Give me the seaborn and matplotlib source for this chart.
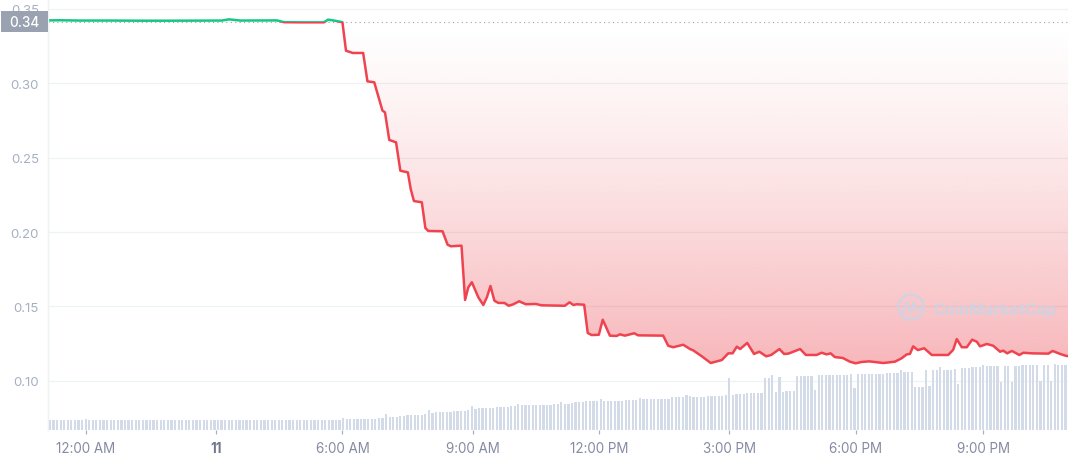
import numpy as np
import matplotlib
matplotlib.use("Agg")
import matplotlib.pyplot as plt
from matplotlib.patches import Polygon, Rectangle, Ellipse
import seaborn as sns

price_pos = [-0.5, 2.8, 8.4, 16.8, 25.2, 33.6, 42.0, 48.1, 50.1, 53.2, 60.2, 63.5, 65.5, 69.9, 76.6, 77.8, 79.4, 81.8,
             82.8, 84.7, 87.6, 88.8, 90.7, 93.0, 93.7, 94.9, 96.8, 98.0, 100.1, 100.9, 101.8, 104.0, 105.0, 105.8, 109.8,
             111.2, 112.1, 115.1, 116.1, 117.0, 118.0, 119.8, 121.2, 122.2, 123.2, 124.3, 125.4, 127.1, 128.3, 129.6,
             131.2, 133.1, 135.9, 137.5, 144.0, 145.3, 146.4, 147.3, 149.4, 150.4, 151.5, 153.5, 154.6, 156.6, 158.5,
             159.4, 160.8, 163.4, 164.5, 171.5, 172.9, 174.3, 177.1, 179.0, 179.9, 182.3, 184.8, 187.9, 189.7, 190.9,
             192.1, 193.0, 195.0, 196.9, 198.4, 200.3, 201.7, 204.0, 205.3, 206.5, 209.8, 211.4, 214.4, 215.8, 217.2,
             218.3, 219.5, 221.7, 223.7, 225.3, 227.0, 229.1, 233.1, 236.3, 238.2, 239.6, 240.5, 241.4, 242.7, 244.5,
             246.6, 251.2, 252.6, 253.6, 255.0, 256.4, 257.9, 259.2, 260.1, 262.0, 263.8, 265.7, 266.6, 267.7, 269.0,
             271.1, 272.2, 274.6, 279.2, 280.4, 282.5, 283.9, 284.7]
price_val = [.3423, .3424, .3422, .3422, .3421, .3421, .3422, .3422, .3430, .3422, .3423, .3423, .3411, .3410, .3410, .3428, .3422, .3411,
             .3219, .3204, .3204, .3013, .3007, .2816, .2805, .2619, .2603, .2412, .2401, .2289, .2208, .2200, .2027, .2007, .2005,
             .1915, .1904, .1908, .1543, .1628, .1662, .1561, .1509, .1561, .1637, .1538, .1523, .1523, .1504, .1514,
             .1534, .1514, .1516, .1507, .1504, .1527, .1509, .1514, .1511, .1321, .1307, .1309, .1410, .1303, .1301,
             .1312, .1303, .1319, .1305, .1303, .1235, .1225, .1242, .1213, .1204, .1164, .1119, .1139, .1184, .1184,
             .1229, .1213, .1254, .1180, .1195, .1164, .1173, .1213, .1180, .1182, .1213, .1173, .1173, .1188, .1177,
             .1184, .1159, .1153, .1128, .1117, .1126, .1130, .1119, .1128, .1151, .1177, .1180, .1231, .1206, .1218,
             .1173, .1173, .1208, .1280, .1225, .1225, .1276, .1262, .1231, .1247, .1235, .1195, .1202, .1184, .1200,
             .1173, .1188, .1184, .1182, .1200, .1180, .1169, .1165]

volume = [10.0, 10.0, 10.0, 10.0, 10.0, 10.0, 10.0, 10.0, 10.0, 10.0, 10.5, 10.0, 10.0, 10.0, 10.0, 10.0, 10.0, 10.0, 10.0, 10.0,
          10.0, 10.0, 10.0, 10.0, 10.0, 10.0, 10.0, 10.0, 10.0, 10.0, 10.0, 10.0, 10.0, 10.0, 10.0, 10.0, 10.0, 10.0, 10.0, 10.0,
          10.0, 10.0, 10.0, 10.0, 10.0, 10.0, 10.0, 10.0, 10.0, 10.0, 10.0, 10.0, 10.0, 10.0, 10.0, 10.0, 10.0, 10.0, 10.0, 10.0,
          10.0, 10.0, 10.0, 10.0, 10.0, 10.0, 10.0, 10.0, 10.0, 10.0, 10.0, 10.0, 10.0, 10.0, 10.0, 10.0, 10.0, 10.0, 10.0, 10.0,
          10.0, 10.0, 11.7, 10.3, 10.3, 10.5, 10.7, 10.7, 10.9, 11.0, 11.0, 11.1, 11.3, 11.5, 15.3, 13.0, 13.0, 13.2, 13.3, 13.8,
          14.3, 14.3, 14.3, 14.5, 14.5, 15.3, 20.0, 16.3, 17.3, 17.3, 17.3, 17.3, 17.3, 18.3, 18.3, 18.3, 18.3, 19.7, 23.3, 20.7,
          21.7, 21.7, 21.7, 21.7, 21.7, 22.3, 22.3, 22.3, 22.3, 23.7, 23.7, 26.0, 24.7, 24.7, 24.7, 24.7, 24.7, 24.7, 24.7, 24.7,
          24.7, 25.7, 25.7, 28.0, 25.7, 25.7, 26.5, 27.3, 27.3, 27.3, 28.3, 28.3, 28.3, 28.3, 30.7, 29.0, 29.0, 29.0, 29.0, 29.0,
          29.0, 30.0, 30.0, 30.0, 30.0, 31.7, 30.7, 30.7, 30.7, 30.7, 30.7, 30.7, 30.7, 30.7, 32.3, 32.3, 32.3, 32.3, 34.7, 33.3,
          33.0, 33.0, 33.0, 33.0, 33.5, 33.5, 33.5, 33.5, 33.7, 34.7, 52.0, 34.3, 35.7, 35.7, 35.7, 36.7, 36.7, 36.7, 36.7, 36.7,
          51.3, 52.0, 55.0, 37.3, 52.3, 37.3, 38.3, 38.3, 38.3, 54.0, 54.0, 54.0, 54.0, 54.0, 40.0, 55.0, 55.0, 55.0, 55.0, 55.0,
          55.0, 54.7, 54.7, 54.7, 55.7, 41.3, 56.0, 56.0, 56.0, 56.0, 55.7, 55.7, 55.7, 55.7, 56.7, 56.7, 56.7, 56.7, 59.7, 57.7,
          57.7, 57.7, 43.0, 43.0, 43.0, 59.7, 44.0, 59.7, 59.7, 62.3, 59.7, 59.7, 59.7, 60.7, 45.7, 61.3, 61.3, 61.3, 62.3, 62.3,
          62.3, 64.3, 63.3, 63.3, 63.3, 63.3, 47.3, 63.3, 63.3, 48.0, 63.3, 63.3, 64.3, 64.3, 64.3, 64.3, 64.3, 49.0, 64.3, 64.3,
          49.0, 65.3, 64.3, 64.3, 64.3]

baseline = 0.3414
y_ticks = [0.10, 0.15, 0.20, 0.25, 0.30, 0.35]
x_ticks = [10, 46.4, 81.8, 118.2, 153.6, 190, 225.4, 261]
x_labels = ["12:00 AM", "11", "6:00 AM", "9:00 AM", "12:00 PM", "3:00 PM", "6:00 PM", "9:00 PM"]

GREEN, RED = "#16C784", "#EF4350"
TICK_X, TICK_Y, GRID, BAR = "#858CA2", "#A6B0C3", "#EFF2F5", "#D3DAE8"

sns.set_theme(style="white")
plt.rcParams["font.family"] = ["Inter", "DejaVu Sans"]

W, H = 1068, 460
fig = plt.figure(figsize=(W / 100, H / 100), dpi=100, facecolor="white")
ax = fig.add_axes([48 / W, (H - 430.7) / H, 1020 / W, 430.7 / H])
ax2 = ax.twinx()
ax.set_zorder(1)
ax2.set_zorder(2)
ax2.patch.set_visible(False)

x = np.asarray(price_pos)
y = np.asarray(price_val)
xlim = (-0.53, 284.7)
ylim = (0.06705, 0.35669)

# volume bars
sns.barplot(x=np.arange(len(volume)), y=volume, native_scale=True, color=BAR, saturation=1,
            width=0.62, ax=ax2, linewidth=0)
ax2.set_ylim(0, 430.7)
ax2.set_xlabel("")
ax2.set_ylabel("")
ax2.set_yticks([])

# gradient area between the price and its reference level
ramp = np.linspace(0, 1, 256)[:, None]
rgba = np.ones((256, 1, 4))
rgba[..., :3] = matplotlib.colors.to_rgb("#EA3943")
rgba[..., 3] = 0.36 * ramp ** 1.25
img = ax.imshow(rgba, extent=[x[0], x[-1], y.min(), baseline], origin="upper", aspect="auto", zorder=1,
                interpolation="bilinear")
poly = Polygon(np.column_stack([np.r_[x[0], x, x[-1]], np.r_[baseline, np.minimum(y, baseline), baseline]]),
               closed=True, transform=ax.transData, facecolor="none", edgecolor="none")
ax.add_patch(poly)
img.set_clip_path(poly)

# reference level
ax.axhline(baseline, color="#9aa1b0", lw=0.8, ls=(0, (1, 3)), zorder=2)

# price line: one colour above the reference, the other below
sns.lineplot(x=x, y=y, color=GREEN, lw=1.8, ax=ax, estimator=None, sort=False, zorder=4)
green = ax.lines[-1]
sns.lineplot(x=x, y=y, color=RED, lw=1.8, ax=ax, estimator=None, sort=False, zorder=4)
red = ax.lines[-1]
green.set_clip_path(Rectangle((xlim[0], baseline), xlim[1] - xlim[0], 1, transform=ax.transData))
red.set_clip_path(Rectangle((xlim[0], 0), xlim[1] - xlim[0], baseline, transform=ax.transData))
for l in (green, red):
    l.set_solid_joinstyle("round")

ax.set_xlim(*xlim)
ax.set_ylim(*ylim)
ax.set_axisbelow(True)
ax.set_xlabel("")
ax.set_ylabel("")
ax.grid(False)
ax.yaxis.grid(True, color=GRID, lw=0.9)
ax.set_yticks(y_ticks)
ax.set_yticklabels([f"{v:.2f}" for v in y_ticks])
ax.tick_params(axis="y", length=0, pad=6.5, labelsize=9.5, labelcolor=TICK_Y)
ax.set_xticks(x_ticks)
ax.set_xticklabels(x_labels)
ax.tick_params(axis="x", length=3.2, width=0.9, color=TICK_Y, pad=5, labelsize=9.7, labelcolor=TICK_X, bottom=True)
for lab in ax.get_xticklabels():
    if lab.get_text() == "11":
        lab.set_fontweight("bold")
        lab.set_color("#6F788C")
for a in (ax, ax2):
    for name, sp in a.spines.items():
        sp.set_visible(name == "left")
        sp.set_color(GRID)
        sp.set_linewidth(0.9)
ax2.tick_params(axis="x", bottom=False, labelbottom=False)
ax2.tick_params(axis="y", left=False, right=False, labelleft=False, labelright=False)

# current-level tag
fig.add_artist(Rectangle((1 / W, (H - 33) / H), 47 / W, 21 / H, transform=fig.transFigure,
                         facecolor="#9AA1B0", edgecolor="none", zorder=5))
fig.text(24.5 / W, (H - 22.7) / H, "0.34", color="white", fontsize=9.7, fontweight="medium", ha="center", va="center",
         zorder=6)

# watermark
WM = "#CBD5E6"
fig.text(933 / W, (H - 310) / H, "CoinMarketCap", color=WM, fontsize=11.6, fontweight="bold", ha="left", va="center",
         alpha=0.85, zorder=6)
fig.add_artist(Ellipse((911 / W, (H - 308) / H), 25 / W, 25 / H, transform=fig.transFigure,
                       facecolor="none", edgecolor=WM, lw=1.8, alpha=0.85, zorder=6))
fig.add_artist(plt.Line2D([902 / W, 907 / W, 911 / W, 914 / W, 917 / W, 920 / W],
                          [(H - 316) / H, (H - 303) / H, (H - 315) / H, (H - 303) / H, (H - 312) / H, (H - 308) / H],
                          transform=fig.transFigure, color=WM, lw=1.5, alpha=0.85, zorder=6))

fig.savefig("out.png", dpi=100)
